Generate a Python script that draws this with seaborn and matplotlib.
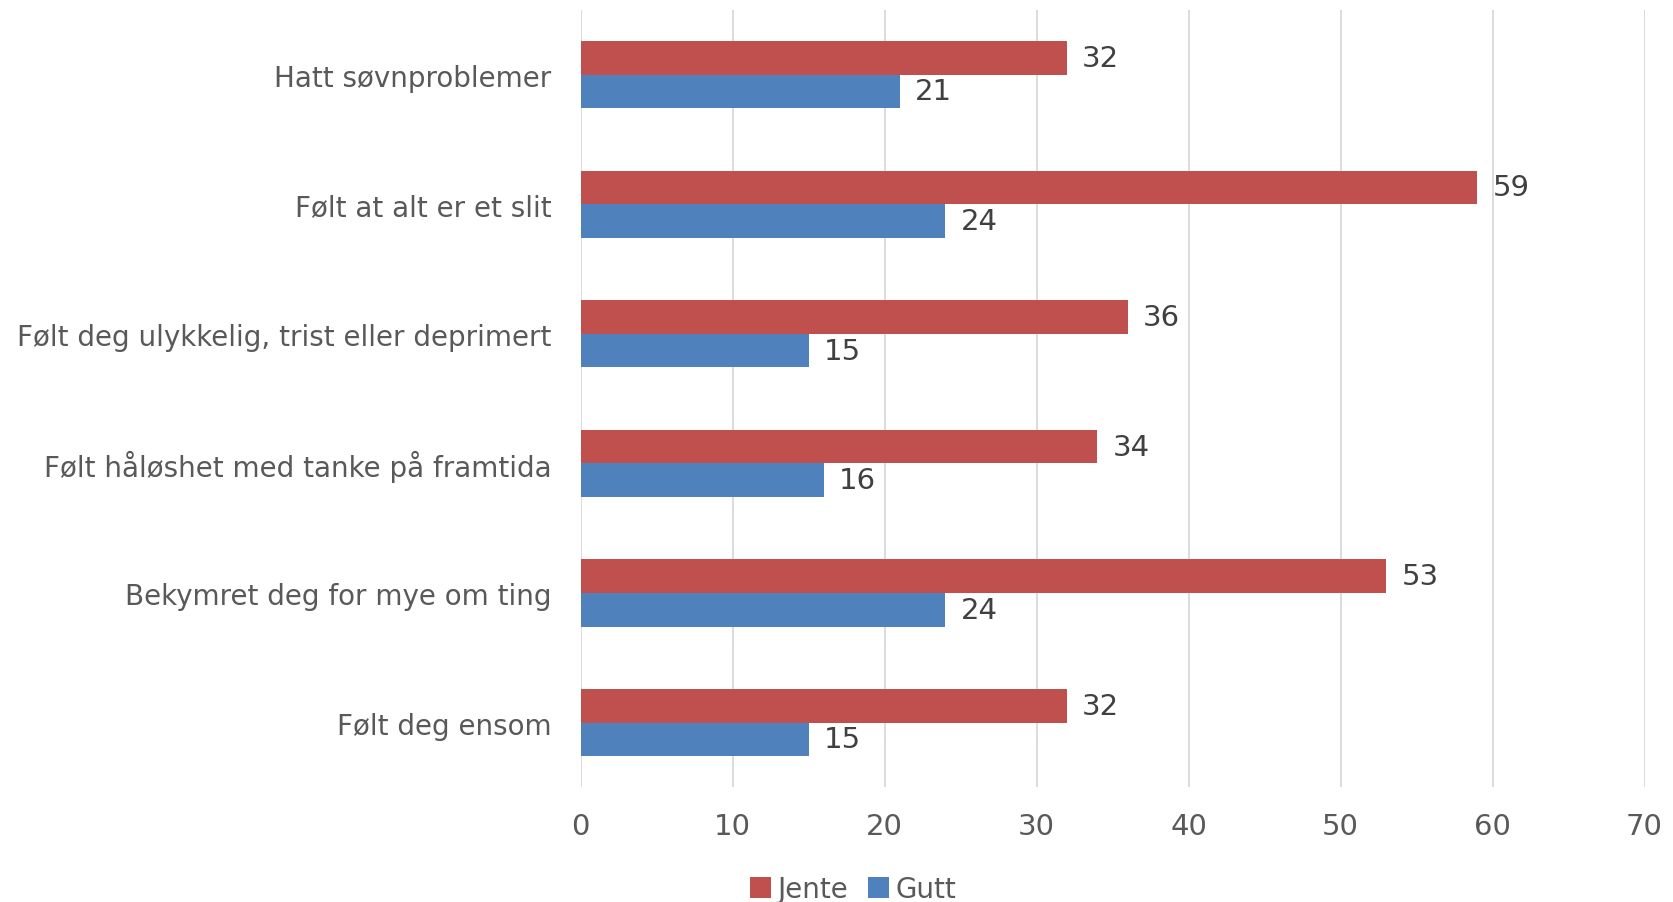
import matplotlib
matplotlib.use("Agg")
import matplotlib.pyplot as plt
import seaborn as sns
import pandas as pd

categories = [
    "Hatt søvnproblemer",
    "Følt at alt er et slit",
    "Følt deg ulykkelig, trist eller deprimert",
    "Følt håløshet med tanke på framtida",
    "Bekymret deg for mye om ting",
    "Følt deg ensom",
]
jente = [32, 59, 36, 34, 53, 32]
gutt = [21, 24, 15, 16, 24, 15]
x_ticks = [0, 10, 20, 30, 40, 50, 60, 70]

df = pd.DataFrame({
    "kategori": categories * 2,
    "verdi": jente + gutt,
    "kjonn": ["Jente"] * len(jente) + ["Gutt"] * len(gutt),
})

sns.set_style("white")
plt.rcParams["font.family"] = ["DejaVu Sans"]
text_col = "#595959"

fig = plt.figure(figsize=(16.73, 9.03), dpi=100)
ax = fig.add_axes([0.347, 0.127, 0.636, 0.861])

sns.barplot(data=df, y="kategori", x="verdi", hue="kjonn", orient="h",
            hue_order=["Jente", "Gutt"], order=categories,
            palette={"Jente": "#C0504D", "Gutt": "#4F81BD"},
            width=0.52, saturation=1, linewidth=0, ax=ax, zorder=3)

for cont in ax.containers:
    ax.bar_label(cont, padding=11, fontsize=21, color="#404040")

ax.set_xlim(0, 70)
ax.set_xticks(x_ticks)
ax.set_ylim(5.5, -0.5)
ax.grid(axis="x", color="#D9D9D9", linewidth=1.3, zorder=0)
ax.set_axisbelow(True)
for s in ax.spines.values():
    s.set_visible(False)
ax.tick_params(axis="x", length=0, labelsize=21, colors=text_col, pad=18)
ax.tick_params(axis="y", length=0, labelsize=20, colors=text_col, pad=21)
ax.set_xlabel("")
ax.set_ylabel("")

ax.legend(loc="center", bbox_to_anchor=(0.51, 0.014), bbox_transform=fig.transFigure,
          ncol=2, frameon=False, fontsize=20, handlelength=0.75, handleheight=0.75,
          handletextpad=0.25, columnspacing=0.7, labelcolor=text_col)

fig.savefig("out.png", dpi=100)
